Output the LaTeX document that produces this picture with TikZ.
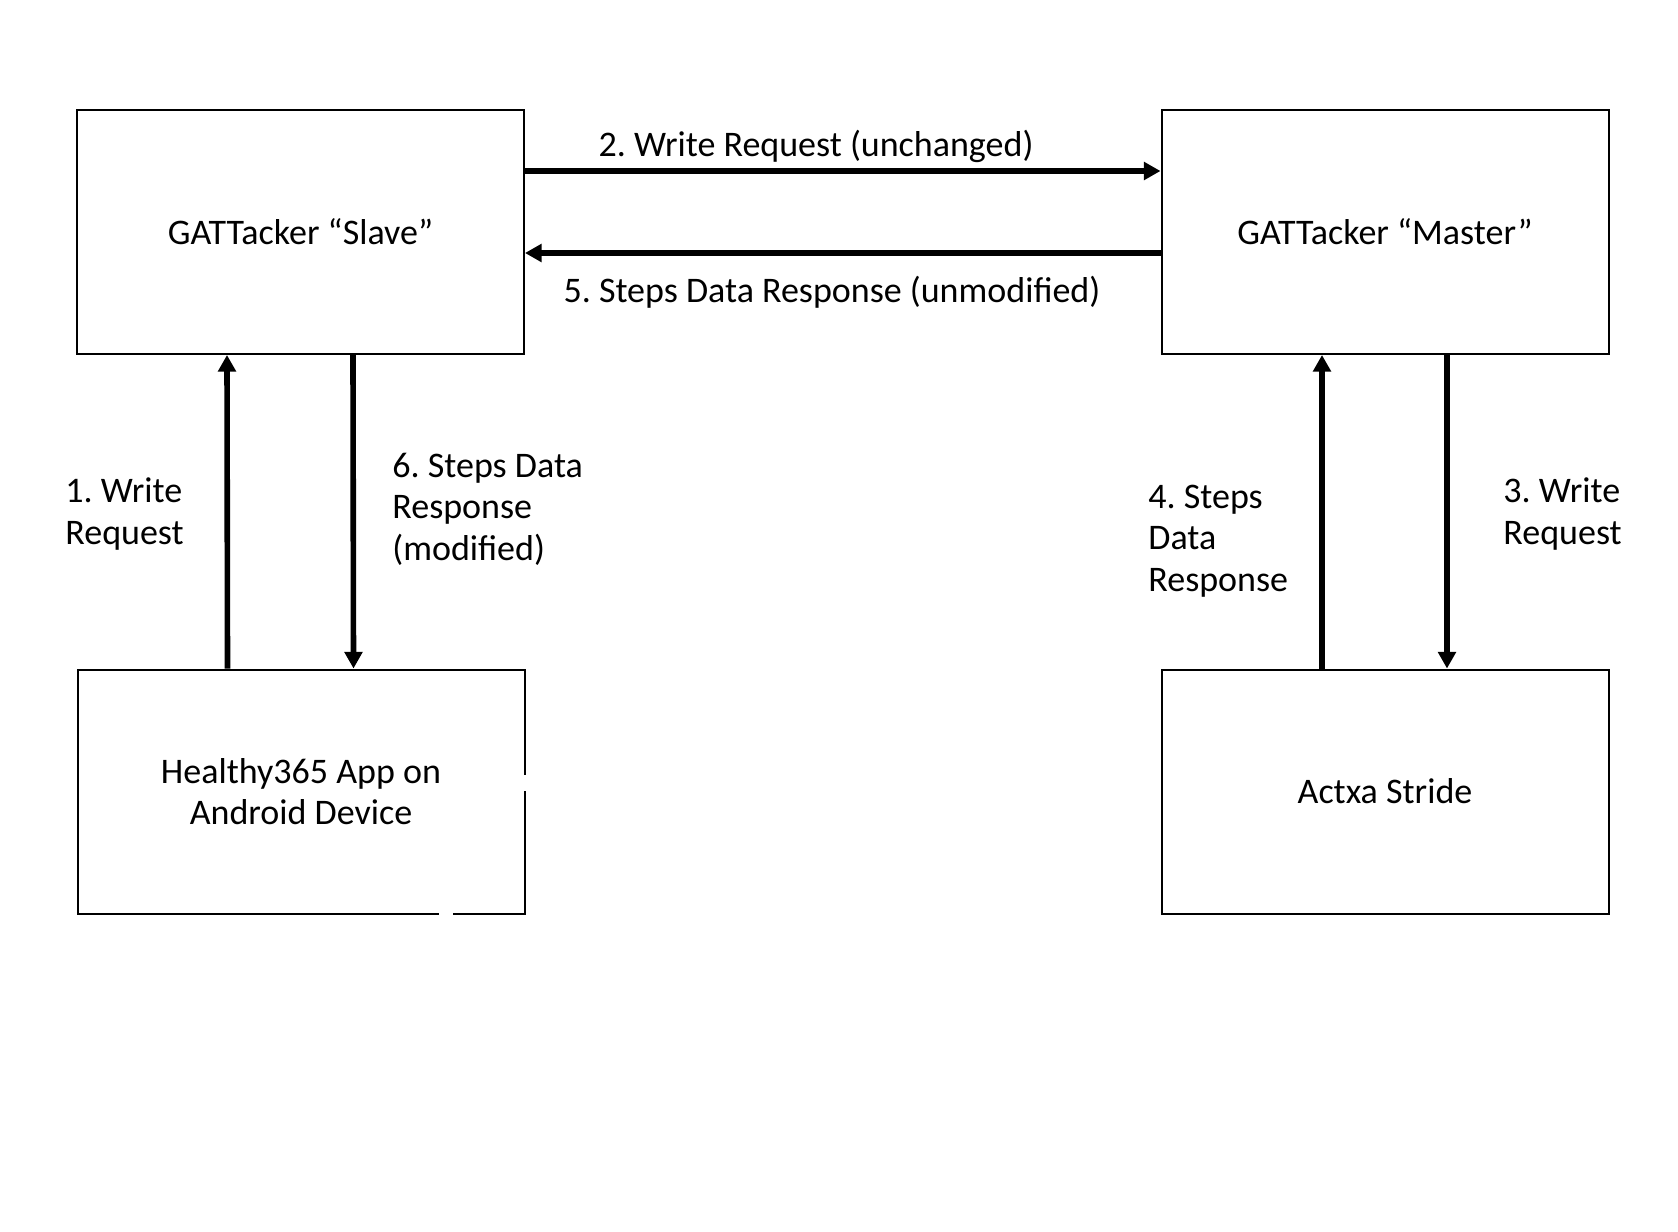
\documentclass[tikz,border=0pt]{standalone}
\usepackage{fontspec}
\setmainfont{Carlito}
\usetikzlibrary{positioning,arrows.meta}
\frenchspacing

\begin{document}
\begin{tikzpicture}[x=0.5pt,y=-0.5pt,
    every node/.style={font=\fontsize{18}{20.75}\selectfont},
    box/.style={draw, line width=1pt, minimum width=223.5pt, minimum height=122pt, inner sep=0pt, align=center},
    flow/.style={line width=2.8pt, -{Triangle[length=8.3pt,width=8.7pt]}},
    lbl/.style={inner sep=0pt, align=left, anchor=base west}]
    \useasboundingbox (0,0) rectangle (1678,1232);

    \node[box] (slave) at (300.5,232) {GATTacker “Slave”};
    \node[box] (master) at (1385,232) {GATTacker “Master”};
    \node[box] (app) at (301,791.5) {Healthy365 App on\\Android Device};
    \node[box] (stride) at (1385,791.5) {Actxa Stride};

    % gaps in the app box outline
    \fill[white] (521,775) rectangle (529,791);
    \fill[white] (439,910) rectangle (453,918);

    \draw[flow] ([yshift=30.5pt]slave.east) -- ([yshift=30.5pt]master.west);
    \draw[flow] ([yshift=-10.5pt]master.west) -- ([yshift=-10.5pt]slave.east);
    \draw[flow] ([xshift=-36.75pt]app.north) -- ([xshift=-36.75pt]slave.south);
    \draw[flow] ([xshift=26.25pt]slave.south) -- ([xshift=26.25pt]app.north);
    \draw[flow] ([xshift=-31.5pt]stride.north) -- ([xshift=-31.5pt]master.south);
    \draw[flow] ([xshift=31pt]master.south) -- ([xshift=31pt]stride.north);

    \node[lbl, anchor=base] (req2) at (816,156) {2. Write Request (unchanged)};
    \node[lbl, anchor=base] (resp5) at (832,302) {5. Steps Data Response (unmodified)};
    % base of a multi-line label is its last line
    \node[lbl] (req1) at (65,544) {1. Write\\Request};
    \node[lbl] (resp6) at (392,560) {6. Steps Data\\Response\\(modified)};
    \node[lbl] (resp4) at (1148,591) {4. Steps\\Data\\Response};
    \node[lbl] (req3) at (1503,544) {3. Write\\Request};
\end{tikzpicture}
\end{document}
